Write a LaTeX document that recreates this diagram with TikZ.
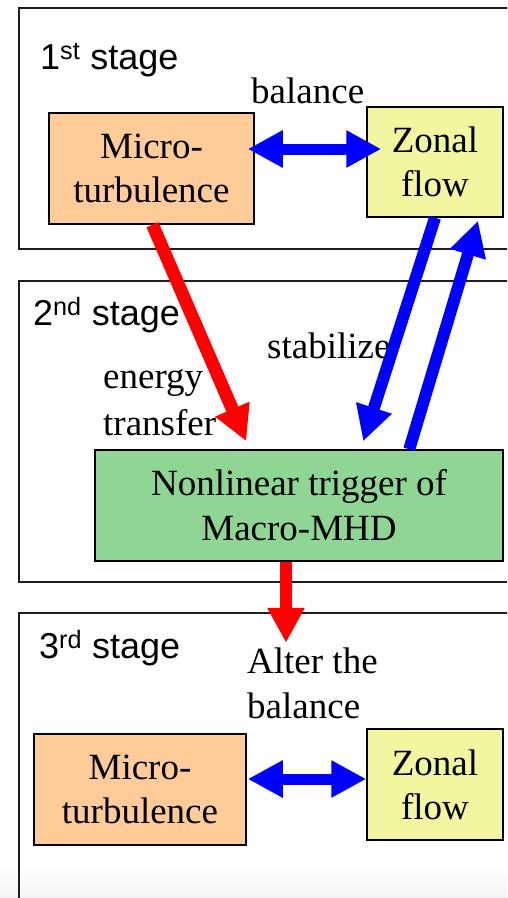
\documentclass[tikz,border=0pt]{standalone}
\usepackage{fontspec}
\setmainfont{Liberation Serif}
\newfontfamily\arialfont{Liberation Sans}
\usetikzlibrary{arrows.meta,calc}
\definecolor{peach}{RGB}{255,204,153}
\definecolor{paleyellow}{RGB}{243,246,161}
\definecolor{mhdgreen}{RGB}{143,214,148}
\definecolor{framegray}{RGB}{30,30,30}
\definecolor{shadegray}{RGB}{241,243,246}
\begin{document}
\begin{tikzpicture}[x=1pt,y=-1pt,
  stageframe/.style={draw=framegray,line width=1.5pt},
  box/.style={draw=black,line width=1.5pt,align=center,inner sep=0pt,
    font=\fontsize{37}{44}\selectfont},
  microbox/.style={box,fill=peach},
  zonalbox/.style={box,fill=paleyellow},
  mhdbox/.style={box,fill=mhdgreen,font=\fontsize{37}{45}\selectfont},
  stagelabel/.style={anchor=base west,inner sep=0pt,font=\arialfont\fontsize{36}{40}\selectfont},
  label/.style={anchor=base west,inner sep=0pt,font=\fontsize{37}{44}\selectfont},
  fatarrow/.style={line width=#1,-{Triangle[width=35pt,length=35pt]}},
  bothway/.style={line width=11pt,{Triangle[width=35pt,length=35pt]}-{Triangle[width=35pt,length=35pt]},draw=blue},
]
\useasboundingbox (0,0) rectangle (507,898);
\clip (0,0) rectangle (507,898);

% faint page shading at the lower edge
\fill[top color=white,bottom color=shadegray] (0,866) rectangle (507,898);

% stage frames (running off the right edge)
\draw[stageframe] (19,8) rectangle (540,249);
\draw[stageframe] (19,281) rectangle (540,582);
\draw[stageframe] (19,613) rectangle (540,940);

% stage titles
\node[stagelabel] (s1) at (40,69) {1\textsuperscript{st} stage};
\node[stagelabel] (s2) at (33,325) {2\textsuperscript{nd} stage};
\node[stagelabel] (s3) at (39,658) {3\textsuperscript{rd} stage};

% first stage
\node[microbox,minimum width=205pt,minimum height=111pt] (mt1) at (151.5,168.5) {Micro-\\turbulence};
\node[zonalbox,minimum width=136pt,minimum height=110pt] (zf1) at (435,162) {Zonal\\flow};
\node[label] (bal) at (251,103) {balance};

% second stage
\node[mhdbox,minimum width=408pt,minimum height=111pt] (nl) at (299,505.5) {Nonlinear trigger of\\Macro-MHD};
\node[label] (stab) at (267,358) {stabilize};
\node[label] (en1) at (103,388) {energy};
\node[label] (en2) at (103,435) {transfer};

% third stage
\node[microbox,minimum width=212pt,minimum height=111pt] (mt3) at (140,789.5) {Micro-\\turbulence};
\node[zonalbox,minimum width=136pt,minimum height=111pt] (zf3) at (435,784.5) {Zonal\\flow};
\node[label] (alt1) at (247,673) {Alter the};
\node[label] (alt2) at (247,718) {balance};

% connectors
\draw[bothway] ($(mt1.east)+(-7,-19.5)$) -- ($(zf1.west)+(15,-13)$);
\draw[fatarrow=13pt,draw=red] ($(mt1.south)+(1,0)$) -- ($(nl.north west)+(152,-8)$);
\draw[fatarrow=12pt,draw=blue] (zf1.south) -- ($(nl.north west)+(269,-8)$);
\draw[fatarrow=12pt,draw=blue] ($(nl.north west)+(315,0)$) -- ($(zf1.south)+(43,3)$);
\draw[fatarrow=12pt,draw=red] ($(nl.south)+(-13,0)$) -- ($(nl.south)+(-13,81)$);
\draw[bothway] ($(mt3.east)+(1,-10.5)$) -- ($(zf3.west)+(0,-5.5)$);
\end{tikzpicture}
\end{document}
